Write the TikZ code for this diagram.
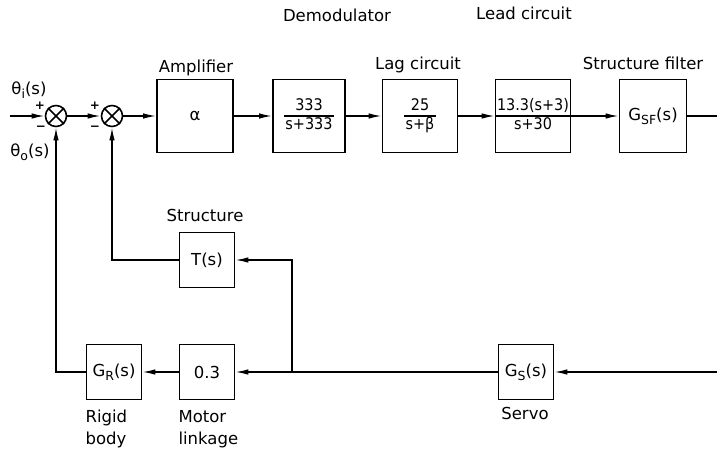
\documentclass[tikz,border=0pt]{standalone}
\usepackage{fontspec}
\setmainfont{DejaVu Sans}
\newfontfamily\fracfont{DejaVu Sans Condensed}
\usepackage{tikz}
\usetikzlibrary{arrows.meta}
\usetikzlibrary{positioning}
\newcommand{\lowsub}[1]{\raisebox{-0.45ex}{\fontsize{12.5}{12.5}\selectfont #1}}
\newcommand{\blkfrac}[2]{{\fracfont\fontsize{16}{18}\selectfont\setlength{\tabcolsep}{1.5pt}\setlength{\arrayrulewidth}{1.2pt}\begin{tabular}{c}#1\\\hline #2\end{tabular}}}

\begin{document}
\begin{tikzpicture}[x=1pt,y=-1pt,font=\fontsize{16.5}{22}\selectfont,
        block/.style={draw,line width=1.6pt,minimum height=73pt,inner sep=0pt},
        smallblock/.style={draw,line width=1.6pt,minimum size=55pt,inner sep=0pt},
        sumjct/.style={draw,circle,line width=1.6pt,minimum size=21pt,inner sep=0pt},
        signal/.style={line width=1.5pt,-{Latex[length=13pt,width=5.5pt]}},
        wire/.style={line width=1.5pt},
        sign/.style={font=\fontsize{12}{12}\selectfont\bfseries,inner sep=0pt}]
        \useasboundingbox (0,0) rectangle (717,453);
        \node[sumjct] (sumA) at (56,116) {};
        \node[sumjct] (sumB) at (112,116) {};
        \draw[wire] (sumA.north west) -- (sumA.south east) (sumA.north east) -- (sumA.south west);
        \draw[wire] (sumB.north west) -- (sumB.south east) (sumB.north east) -- (sumB.south west);
        \node[block,minimum width=76pt] (amp) at (195,116) {α};
        \node[block,minimum width=72pt] (demod) at (309,116) {\blkfrac{333}{s+333}};
        \node[block,minimum width=75pt] (lag) at (420,116) {\blkfrac{25}{s+β}};
        \node[block,minimum width=73pt] (lead) at (533,116) {\blkfrac{13.3(s+3)}{s+30}};
        \node[block,minimum width=67pt] (filt) at (653,116) {G\lowsub{SF}(s)};
        \coordinate (in) at (10,116);
        \coordinate (out) at (717,116);
        \node[smallblock] (struct) at (207,260) {T(s)};
        \node[smallblock] (motor) at (207,372) {0.3};
        \node[smallblock] (rigid) at (114,372) {G\lowsub{R}(s)};
        \node[smallblock] (servo) at (526,372) {G\lowsub{S}(s)};
        \coordinate (feed) at (717,372);
        \coordinate (split) at (292,372);

        \draw[signal] (in) -- (sumA);
        \draw[signal] (sumA) -- (sumB);
        \draw[signal] (sumB) -- (amp);
        \draw[signal] (amp) -- (demod);
        \draw[signal] (demod) -- (lag);
        \draw[signal] (lag) -- (lead);
        \draw[signal] (lead) -- (filt);
        \draw[wire] (filt) -- (out);
        \draw[signal] (feed) -- (servo);
        \draw[signal] (servo) -- (motor);
        \draw[signal] (split) |- (struct);
        \draw[signal] (motor) -- (rigid);
        \draw[signal] (rigid) -| (sumA);
        \draw[signal] (struct) -| (sumB);

        \node (thin) at (29,90) {θ\lowsub{i}(s)};
        \node (thout) at (30,152) {θ\lowsub{o}(s)};
        \node[sign] (plusA) at (40,106) {+};
        \node[sign] (minusA) at (41,128) {−};
        \node[sign] (plusB) at (95,106) {+};
        \node[sign] (minusB) at (95,128) {−};
        \node (lamp) at (196,68) {Amplifier};
        \node (ldemod) at (337,15) {Demodulator};
        \node (llag) at (418,65) {Lag circuit};
        \node (llead) at (524,13) {Lead circuit};
        \node (lfilt) at (643,63) {Structure filter};
        \node (lstruct) at (205,215) {Structure};
        \node[anchor=west,align=left] (lrigid) at (82,429) {Rigid\\body};
        \node[anchor=west,align=left] (lmotor) at (175,429) {Motor\\linkage};
        \node (lservo) at (525,413) {Servo};
    \end{tikzpicture}
\end{document}
